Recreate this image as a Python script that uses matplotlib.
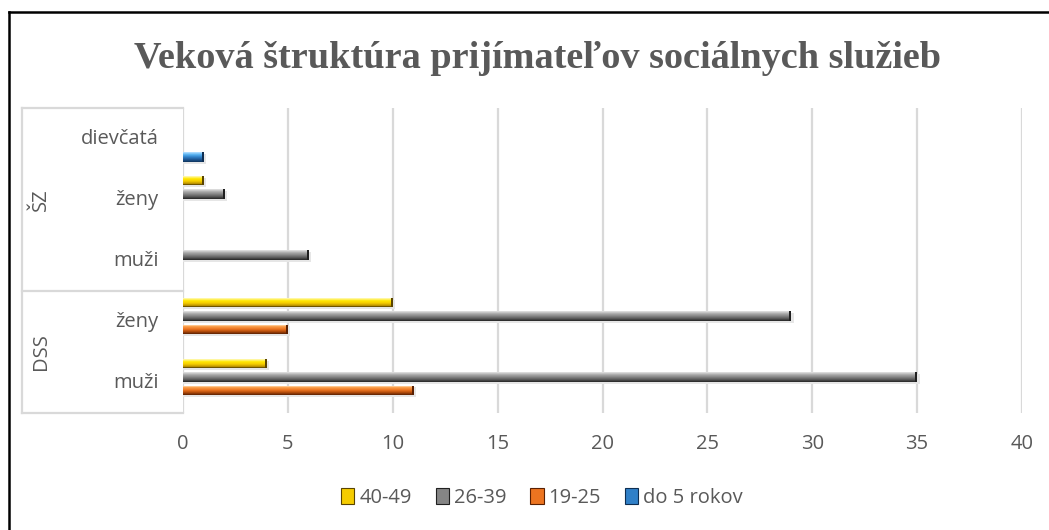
import numpy as np
import matplotlib
matplotlib.use("Agg")
import matplotlib.pyplot as plt
from matplotlib.colors import to_rgb
from matplotlib.lines import Line2D
from matplotlib.patches import Rectangle

# ---------------- data ----------------
title = "Veková štruktúra prijímateľov sociálnych služieb"
groups = ["DSS", "ŠZ"]
categories = ["muži", "ženy", "muži", "ženy", "dievčatá"]   # bottom -> top
category_group = ["DSS", "DSS", "ŠZ", "ŠZ", "ŠZ"]
series_names = ["19-25", "26-39", "40-49", "do 5 rokov"]
v_19_25 = [11, 5, 0, 0, 0]
v_26_39 = [35, 29, 6, 2, 0]
v_40_49 = [4, 10, 0, 1, 0]
v_do5 = [0, 0, 0, 0, 1]
series_values = [v_19_25, v_26_39, v_40_49, v_do5]
x_ticks = [0, 5, 10, 15, 20, 25, 30, 35, 40]
legend_order = ["40-49", "26-39", "19-25", "do 5 rokov"]

# ---------------- style ----------------
W, H = 1049, 530
fig = plt.figure(figsize=(W / 100, H / 100), dpi=100)
TXT = "#595959"
GRID = "#D9D9D9"
FONT = "Open Sans"
FS = 14.5

offsets = {"19-25": -0.13, "26-39": 0.09, "40-49": 0.31, "do 5 rokov": -0.30}
grads = {
    "40-49": ["#FFF7A0", "#FFE600", "#F5CC00", "#C49A00", "#6E5400"],
    "26-39": ["#DADADA", "#A8A8A8", "#858585", "#5E5E5E", "#2E2E2E"],
    "19-25": ["#FFC58A", "#F89A45", "#EC7420", "#B84E0C", "#6A2804"],
    "do 5 rokov": ["#A8DAFF", "#52AEEE", "#3080C8", "#1F5A98", "#113A66"],
}
caps = {"40-49": "#5A4400", "26-39": "#202020", "19-25": "#5A2002", "do 5 rokov": "#0E2E52"}

px0, px1 = 183, 1022
py_top, py_bot = 108, 413
ax = fig.add_axes([px0 / W, (H - py_bot) / H, (px1 - px0) / W, (py_bot - py_top) / H])
ax.set_xlim(0, 40)
ax.set_ylim(-0.5, 4.5)
for s in ax.spines.values():
    s.set_visible(False)
ax.set_xticks(x_ticks)
ax.set_xticklabels([str(t) for t in x_ticks], color=TXT, fontsize=FS, family=FONT)
ax.tick_params(axis="x", length=0, pad=15)
ax.set_yticks([])
for t in x_ticks:
    ax.axvline(t, color=GRID, lw=1.6, zorder=0)


def interp_colors(stops, n):
    rgb = np.array([to_rgb(c) for c in stops])
    pos = np.linspace(0, 1, len(stops))
    out = []
    for f in np.linspace(0, 1, n):
        out.append(tuple(np.interp(f, pos, rgb[:, k]) for k in range(3)))
    return out


bar_h = 0.16
N = 10
ypos = np.arange(len(categories))
for name, vals in zip(series_names, series_values):
    cols = interp_colors(grads[name], N)
    for i, v in enumerate(vals):
        if v <= 0:
            continue
        yc = ypos[i] + offsets[name]
        ax.barh(yc - 0.03, v + 0.12, height=bar_h, left=0, color="#E6E6E6", zorder=1, linewidth=0)
        strip = bar_h / N
        top = yc + bar_h / 2
        for k in range(N):
            ax.barh(top - strip * (k + 0.5), v, height=strip * 1.02, left=0,
                    color=cols[k], linewidth=0, zorder=2)
        ax.barh(yc, 0.1, height=bar_h, left=v - 0.1, color=caps[name], linewidth=0, zorder=3)

# category labels and group box
trans = ax.get_yaxis_transform()
for i, c in enumerate(categories):
    ax.text(-0.029, ypos[i], c, transform=trans, ha="right", va="center",
            color=TXT, fontsize=FS, family=FONT)
xl = (22 - px0) / (px1 - px0)
gpos = {}
for g in groups:
    idx = [i for i, cg in enumerate(category_group) if cg == g]
    gpos[g] = (min(idx) - 0.5, max(idx) + 0.5)
for g, (lo, hi) in gpos.items():
    ax.text((41 - px0) / (px1 - px0), (lo + hi) / 2, g, transform=trans, rotation=90,
            ha="center", va="center", color=TXT, fontsize=FS, family=FONT)
for yb in sorted(set([b for lo_hi in gpos.values() for b in lo_hi])):
    ax.add_line(Line2D([xl, 0], [yb, yb], transform=trans, color=GRID, lw=1.6, clip_on=False))
ax.add_line(Line2D([xl, xl], [-0.5, 4.5], transform=trans, color=GRID, lw=1.6, clip_on=False))

# title
fig.text(538 / W, 1 - 58 / H, title, ha="center", va="center", color=TXT,
         fontsize=27.5, fontweight="bold", family="Liberation Serif")

# legend
handles = [Rectangle((0, 0), 1, 1, facecolor=grads[n][2], edgecolor=caps[n], lw=0.8)
           for n in legend_order]
fig.legend(handles, legend_order, loc="center", bbox_to_anchor=(542 / W, 1 - 498 / H),
           ncol=4, frameon=False, prop={"family": FONT, "size": FS},
           labelcolor=TXT, handlelength=0.65, handleheight=0.85, handletextpad=0.25,
           columnspacing=1.2)

# outer frame (top and left lines)
fig.add_artist(Line2D([9 / W, 1.0], [1 - 12 / H, 1 - 12 / H], transform=fig.transFigure,
                      color="black", lw=1.8))
fig.add_artist(Line2D([9 / W, 9 / W], [1 - 12 / H, 0], transform=fig.transFigure,
                      color="black", lw=1.8))

fig.savefig("out.png", dpi=100, facecolor="white")
